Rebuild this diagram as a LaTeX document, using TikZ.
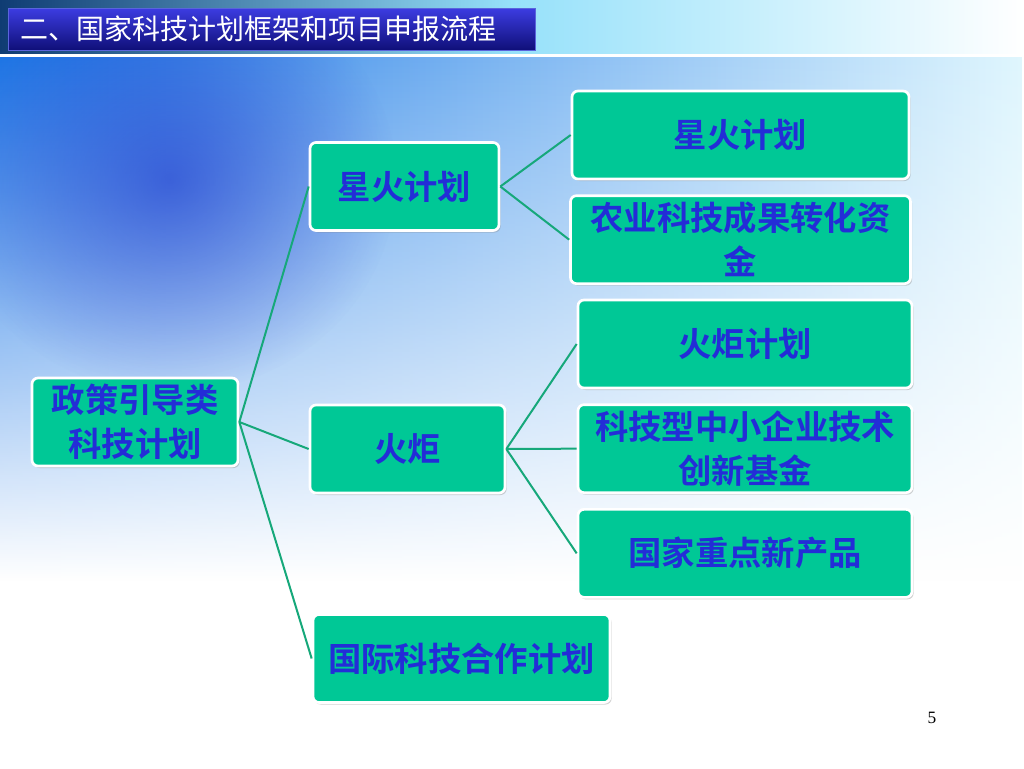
\documentclass[tikz,border=0pt]{standalone}
\usepackage{fontspec}
\usepackage{xcolor}
\usetikzlibrary{positioning,shadows,fadings}
\newfontfamily\cjk[BoldFont={Noto Sans CJK SC Bold}]{Noto Sans CJK SC}
\newfontfamily\numfont{Liberation Serif}
\definecolor{boxgreen}{RGB}{0,200,150}
\definecolor{linegreen}{RGB}{22,168,122}
\definecolor{txtblue}{RGB}{35,45,215}
\definecolor{bgblue}{RGB}{30,120,230}
\definecolor{bgcyan}{RGB}{150,225,250}
\definecolor{bgdeep}{RGB}{20,40,200}
\tikzfading[name=fadedown, top color=transparent!0, bottom color=transparent!100]
\tikzfading[name=glow, inner color=transparent!0, outer color=transparent!100]

\begin{document}
\begin{tikzpicture}[x=0.75pt, y=-0.75pt,
    bx/.style={%
      rectangle, rounded corners=4.5pt, draw=white, line width=2pt, fill=boxgreen,
      drop shadow={shadow xshift=1.2pt, shadow yshift=-1.5pt, opacity=0.35},
      minimum height=66pt, inner sep=2pt, align=center,
      font=\cjk\bfseries\fontsize{25}{33}\selectfont, text=txtblue
    },
    ln/.style={draw=linegreen, line width=1.5pt}
]
  % background
  \useasboundingbox (0,0) rectangle (1024,768);
  \fill[white] (0,0) rectangle (1024,768);
  \shade[left color=bgblue, right color=bgcyan!30, path fading=fadedown] (0,56) rectangle (1024,580);
  \fill[bgdeep, opacity=0.55, path fading=glow] (170,180) ellipse (170pt and 160pt);
  \shade[left color=bgblue!50!black, right color=white, middle color=bgcyan] (0,0) rectangle (1024,56);
  \fill[white] (0,54) rectangle (1024,57);

  % title
  \node[anchor=north west, top color={rgb,255:red,60;green,60;blue,225}, bottom color={rgb,255:red,15;green,15;blue,120},
        draw={rgb,255:red,90;green,100;blue,220}, minimum height=31.5pt, text width=377pt, inner xsep=9pt,
        align=left, text=white, font=\cjk\fontsize{21}{21}\selectfont] (t) at (8,8) {二、国家科技计划框架和项目申报流程};

  \node[bx, minimum width=154.5pt] (1) at (135,422)    {政策引导类\\科技计划};
  \node[bx, minimum width=141.75pt] (2) at (404.5,186.5) {星火计划};
  \node[bx, minimum width=146.25pt] (3) at (407.5,449)  {火炬};
  \node[bx, minimum width=222.75pt] (4) at (461.5,658.5) {国际科技合作计划};

  \node[bx, minimum width=252.75pt] (5) at (740.5,135) {星火计划};
  \node[bx, minimum width=255pt] (6) [below=10.5pt of 5] {农业科技成果转化资\\金};

  \node[bx, minimum width=250.5pt] (7) at (745,344)    {火炬计划};
  \node[bx, minimum width=250.5pt] (8) [below=10.5pt of 7] {科技型中小企业技术\\创新基金};
  \node[bx, minimum width=250.5pt] (9) [below=10.5pt of 8] {国家重点新产品};

  \foreach \t in {2,3,4} \draw[ln] (1.east) -- (\t.west);
  \foreach \t in {5,6} \draw[ln] (2.east) -- (\t.west);
  \foreach \t in {7,8,9} \draw[ln] (3.east) -- (\t.west);

  \node[font=\numfont\fontsize{13}{13}\selectfont] (pg) at (932,718) {5};
\end{tikzpicture}
\end{document}
